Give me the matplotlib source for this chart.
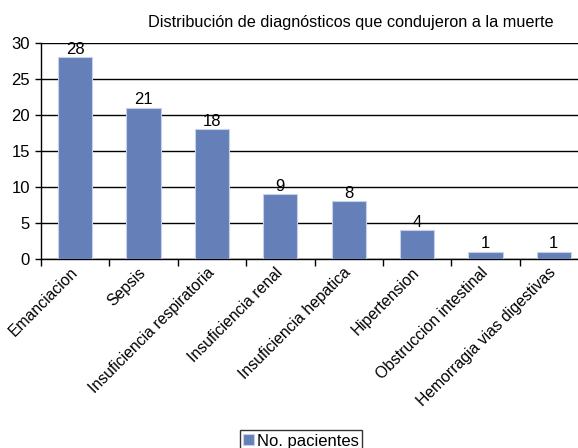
import matplotlib.pyplot as plt
import numpy as np

plt.rcParams['font.family'] = ['Liberation Sans', 'DejaVu Sans']

categorias = ['Emanciacion', 'Sepsis', 'Insuficiencia respiratoria', 'Insuficiencia renal',
              'Insuficiencia hepatica', 'Hipertension', 'Obstruccion intestinal',
              'Hemorragia vias digestivas']
pacientes = [28, 21, 18, 9, 8, 4, 1, 1]
yticks = [0, 5, 10, 15, 20, 25, 30]

fig = plt.figure(figsize=(5.78, 4.48), dpi=100)
# the plot area runs past the right edge of the picture, as in the original
ax = fig.add_axes([41 / 578, 1 - 259 / 448, 547 / 578, 216 / 448])

x = np.arange(len(categorias))
bars = ax.bar(x, pacientes, width=0.5, color='#657fb9', edgecolor='#c5d0ea', linewidth=0.8,
              label='No. pacientes', zorder=3)
for xi, v in zip(x, pacientes):
    ax.text(xi, v + 0.05, str(v), ha='center', va='bottom', fontsize=12)

ax.set_xlim(-0.5, len(categorias) - 0.5)
ax.set_ylim(0, 30)
ax.set_yticks(yticks)
ax.yaxis.grid(True, color='black', linewidth=1)
ax.set_axisbelow(True)
for s in ['top', 'right']:
    ax.spines[s].set_visible(False)
ax.spines['left'].set_linewidth(1)
ax.spines['bottom'].set_linewidth(1)

# ticks between categories, labels at the centres
ax.set_xticks(np.arange(len(categorias) + 1) - 0.5)
ax.set_xticklabels([])
ax.tick_params(axis='x', which='major', length=5, direction='out', width=1)
ax.set_xticks(x, minor=True)
ax.set_xticklabels(categorias, minor=True, rotation=45, ha='right', va='center',
                   rotation_mode='anchor', fontsize=11.3)
ax.tick_params(axis='x', which='minor', length=0, pad=8)
ax.tick_params(axis='y', labelsize=12, length=4, width=1, pad=4)

fig.text(351 / 578, 1 - 22 / 448, 'Distribución de diagnósticos que condujeron a la muerte',
         ha='center', va='center', fontsize=11.7)

fig.legend(handles=[bars], labels=['No. pacientes'], loc='center',
           bbox_to_anchor=(301 / 578, 1 - 441 / 448), fontsize=12, frameon=True,
           fancybox=False, edgecolor='black', handlelength=0.65, handleheight=0.65,
           handletextpad=0.2, borderpad=0.2, borderaxespad=0)

plt.savefig('out.png', dpi=100)
